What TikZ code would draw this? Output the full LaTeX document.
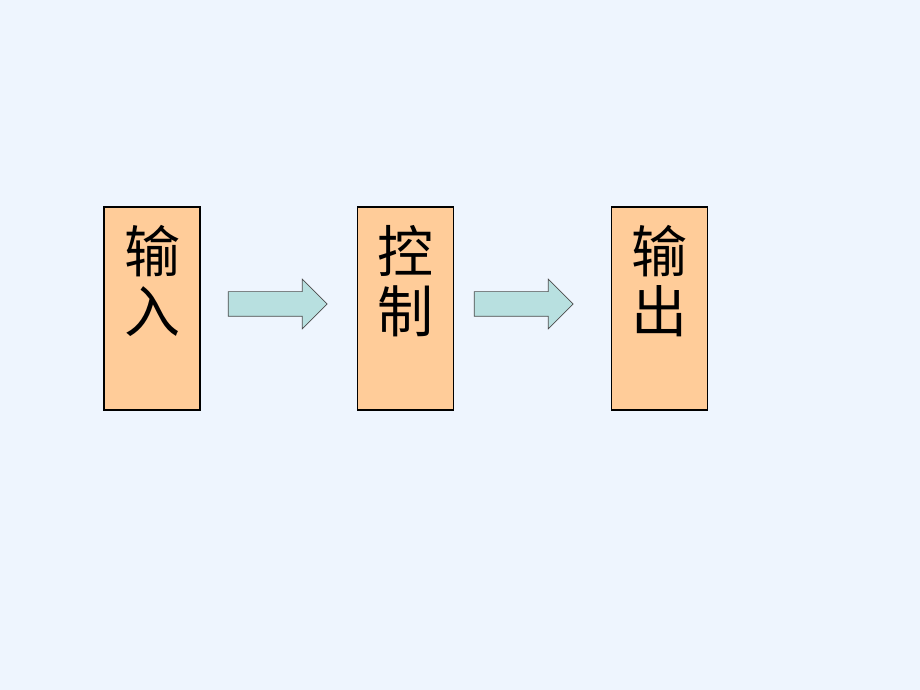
\documentclass[tikz,border=0pt]{standalone}
\usepackage{fontspec}
\newfontfamily\cjk{Noto Sans CJK SC}
\usepackage{xcolor}
\usetikzlibrary{shapes.arrows}

\definecolor{bgblue}{HTML}{EEF5FE}
\definecolor{boxorange}{HTML}{FFCC99}
\definecolor{arrowteal}{HTML}{B8E0E0}

\begin{document}
\begin{tikzpicture}[x=1pt,y=1pt]
        \fill[bgblue] (0,0) rectangle (920,690);

        \begin{scope}[every node/.style = {rectangle, draw=black, line width=1.5pt,
                        fill=boxorange, minimum width=96pt, minimum height=203pt}]
            \node (inp)  at (152,   381.5) {};
            \node (ctrl) at (405.5, 381.5) {};
            \node (outp) at (659.5, 381.5) {};
        \end{scope}

        \begin{scope}[every node/.style = {align=center, inner sep=0pt,
                        font=\cjk\fontsize{56}{60}\selectfont}]
            \node (inpText)  at (152,   409) {输\\入};
            \node (ctrlText) at (405.5, 409) {控\\制};
            \node (outpText) at (659.5, 409) {输\\出};
        \end{scope}

        \begin{scope}[every node/.style = {single arrow, draw=black!70, line width=0.7pt,
                        fill=arrowteal, inner sep=0pt, minimum height=99pt,
                        single arrow head extend=12.5pt}]
            \node (step1) at (271.5, 386) {\rule{0pt}{24pt}};
            \node (step2) at (517.5, 386) {\rule{0pt}{24pt}};
        \end{scope}
    \end{tikzpicture}
\end{document}
